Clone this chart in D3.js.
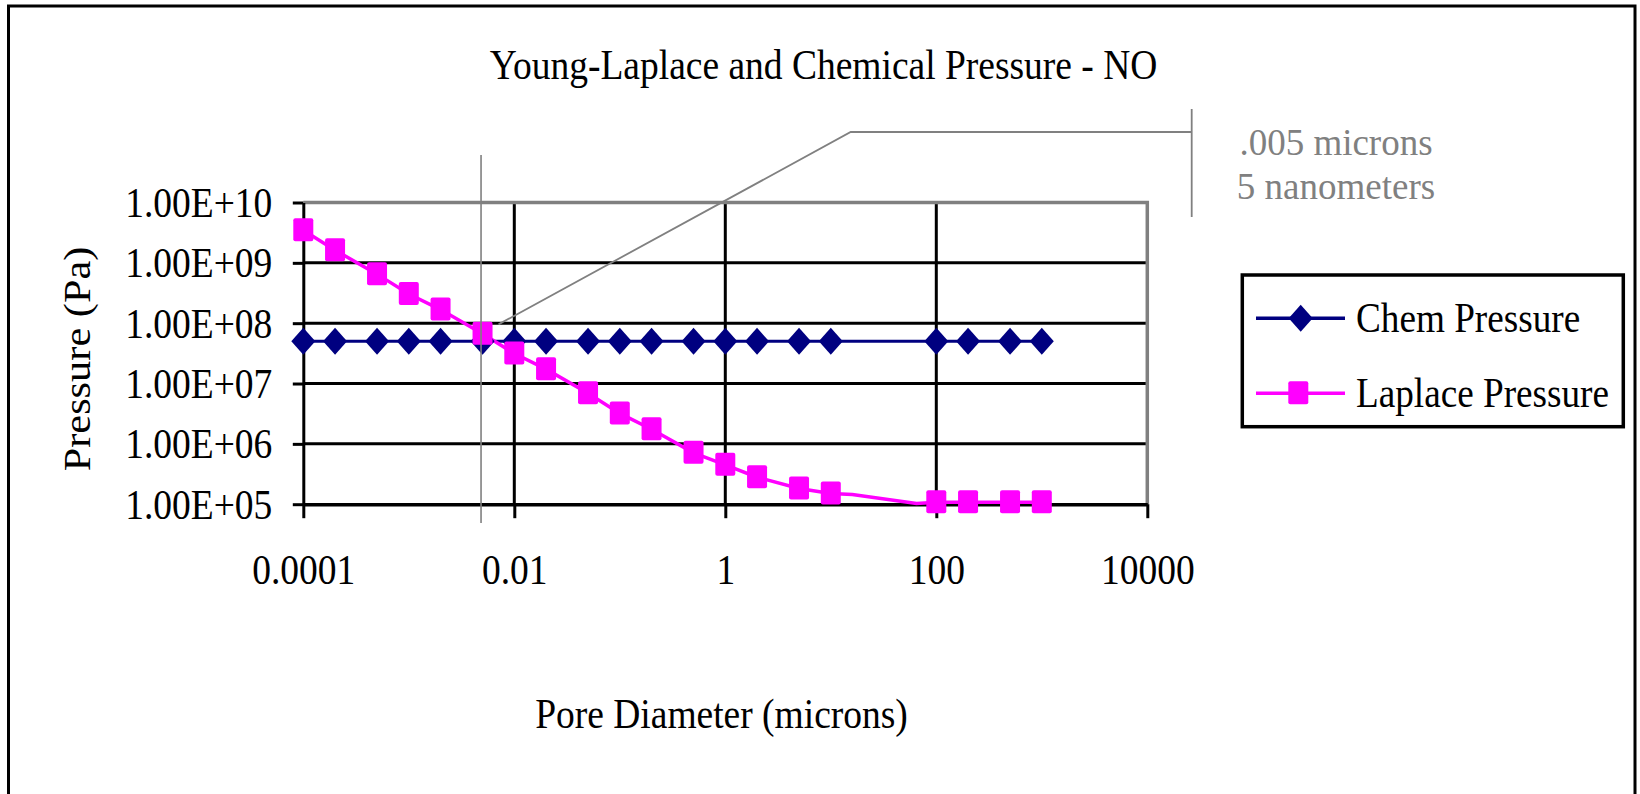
<!DOCTYPE html>
<meta charset="utf-8">
<head>
    <title>Young-Laplace and Chemical Pressure</title>
    <style>
        body { margin: 0; background: #fff; }
        svg text { font-family: "Liberation Serif", "Times New Roman", serif; fill: #000; }
    </style>
</head>
<script src="https://d3js.org/d3.v7.min.js"></script>
<svg id="chart" width="1640" height="794"></svg>

<script>
    // data (pore diameter in microns, pressure in Pa)
    const chemX = [0.0001, 0.0002, 0.0005, 0.001, 0.002, 0.005, 0.01, 0.02, 0.05, 0.1, 0.2, 0.5, 1, 2, 5, 10, 100, 200, 500, 1000]
    const chemY = [5e7, 5e7, 5e7, 5e7, 5e7, 5e7, 5e7, 5e7, 5e7, 5e7, 5e7, 5e7, 5e7, 5e7, 5e7, 5e7, 5e7, 5e7, 5e7, 5e7]

    const laplaceX = [0.0001, 0.0002, 0.0005, 0.001, 0.002, 0.005, 0.01, 0.02, 0.05, 0.1, 0.2, 0.5, 1, 2, 5, 10, 16, 65, 100, 200, 500, 1000]
    const laplaceY = [3.47e9, 1.62e9, 6.5e8, 3.05e8, 1.68e8, 6.7e7, 3.14e7, 1.73e7, 6.9e6, 3.2e6, 1.75e6, 7.1e5, 4.5e5, 2.8e5, 1.82e5, 1.5e5, 1.45e5, 1.03e5, 1.08e5, 1.08e5, 1.08e5, 1.08e5]
    // two points on the line carry no marker in the original
    const laplaceMarked = [1, 1, 1, 1, 1, 1, 1, 1, 1, 1, 1, 1, 1, 1, 1, 1, 0, 0, 1, 1, 1, 1]

    const xTicks = [0.0001, 0.01, 1, 100, 10000]
    const xTickLabels = ["0.0001", "0.01", "1", "100", "10000"]
    const xGrid = [0.01, 1, 100]
    const yTicks = [1e5, 1e6, 1e7, 1e8, 1e9, 1e10]
    const yTickLabels = ["1.00E+05", "1.00E+06", "1.00E+07", "1.00E+08", "1.00E+09", "1.00E+10"]
    const yGrid = [1e6, 1e7, 1e8, 1e9]

    const seriesNames = ["Chem Pressure", "Laplace Pressure"]
    const title = "Young-Laplace and Chemical Pressure - NO"
    const xTitle = "Pore Diameter (microns)"
    const yTitle = "Pressure (Pa)"
    const noteX = 0.005
    const noteLines = [".005 microns", "5 nanometers"]

    const svg = d3.select("#chart")
    const navy = "#000080", magenta = "#ff00ff", grey = "#808080"
    const stretch = 1.13   // the original picture is a bit taller than wide
    const fs = 37.5

    // plot area
    const plotL = 303.3, plotR = 1147.3, plotT = 202.5, plotB = 504.2

    const x = d3.scaleLog().domain([1e-4, 1e4]).range([plotL, plotR])
    const y = d3.scaleLog().domain([1e5, 1e10]).range([plotB, plotT])

    // outer frame (bottom edge falls outside the picture)
    svg.append("rect")
        .attr("x", 8.5).attr("y", 6).attr("width", 1626.5).attr("height", 820)
        .attr("fill", "none").attr("stroke", "#000").attr("stroke-width", 3)

    // title
    svg.append("text")
        .attr("transform", "translate(823.5,65) scale(1," + stretch + ")")
        .attr("text-anchor", "middle").attr("dy", "0.33em")
        .style("font-size", fs + "px")
        .text(title)

    // gridlines
    svg.append("g").selectAll("line")
        .data(yGrid)
        .join("line")
        .attr("x1", plotL).attr("x2", plotR)
        .attr("y1", d => y(d)).attr("y2", d => y(d))
        .attr("stroke", "#000").attr("stroke-width", 3)

    svg.append("g").selectAll("line")
        .data(xGrid)
        .join("line")
        .attr("x1", d => x(d)).attr("x2", d => x(d))
        .attr("y1", plotT).attr("y2", plotB)
        .attr("stroke", "#000").attr("stroke-width", 3)

    // grey plot-area border on top and right
    svg.append("path")
        .attr("d", "M" + plotL + "," + plotT + "H" + plotR + "V" + plotB)
        .attr("fill", "none").attr("stroke", grey).attr("stroke-width", 3.5)

    // y axis
    const yAxis = svg.append("g")
        .attr("transform", "translate(" + plotL + ",0)")
        .call(d3.axisLeft(y).tickValues(yTicks).tickFormat((d, i) => yTickLabels[i]).tickSize(10.5).tickSizeOuter(0))
    yAxis.select(".domain").attr("stroke", "#000").attr("stroke-width", 3)
    yAxis.selectAll(".tick line").attr("stroke", "#000").attr("stroke-width", 3)
    yAxis.selectAll(".tick text")
        .attr("x", null).attr("dy", "0.33em")
        .attr("transform", "translate(-31,0) scale(1," + stretch + ")")
        .style("font-size", fs + "px").style("font-family", "Liberation Serif")

    // x axis
    const xAxis = svg.append("g")
        .attr("transform", "translate(0," + plotB + ")")
        .call(d3.axisBottom(x).tickValues(xTicks).tickFormat((d, i) => xTickLabels[i]).tickSize(14).tickSizeOuter(0))
    xAxis.select(".domain").attr("stroke", "#000").attr("stroke-width", 3.5)
    xAxis.selectAll(".tick line").attr("stroke", "#000").attr("stroke-width", 3)
    xAxis.selectAll(".tick text")
        .attr("y", null).attr("dy", "0.33em")
        .attr("transform", "translate(0,66) scale(1," + stretch + ")")
        .style("font-size", fs + "px").style("font-family", "Liberation Serif")

    // axis titles
    svg.append("text")
        .attr("transform", "translate(721.5,714) scale(1," + stretch + ")")
        .attr("text-anchor", "middle").attr("dy", "0.33em")
        .style("font-size", fs + "px")
        .text(xTitle)

    svg.append("text")
        .attr("transform", "translate(79,359) rotate(-90) scale(" + stretch + ",1)")
        .attr("text-anchor", "middle").attr("dy", "0.3em")
        .style("font-size", fs + "px")
        .text(yTitle)

    // series
    const chem = chemX.map((d, i) => ({x: d, y: chemY[i]}))
    const lap = laplaceX.map((d, i) => ({x: d, y: laplaceY[i], m: laplaceMarked[i]}))

    const line = d3.line().x(d => x(d.x)).y(d => y(d.y))

    svg.append("path").datum(chem).attr("d", line)
        .attr("fill", "none").attr("stroke", navy).attr("stroke-width", 3)
    svg.append("path").datum(lap).attr("d", line)
        .attr("fill", "none").attr("stroke", magenta).attr("stroke-width", 3.5)

    const diamond = (cx, cy) => "M" + cx + "," + (cy - 13.5) + "L" + (cx + 12) + "," + cy +
        "L" + cx + "," + (cy + 13.5) + "L" + (cx - 12) + "," + cy + "Z"

    svg.append("g").selectAll("path")
        .data(chem)
        .join("path")
        .attr("d", d => diamond(x(d.x), y(d.y)))
        .attr("fill", navy)

    svg.append("g").selectAll("rect")
        .data(lap.filter(d => d.m))
        .join("rect")
        .attr("x", d => x(d.x) - 10).attr("y", d => y(d.y) - 12)
        .attr("width", 20).attr("height", 23).attr("rx", 2)
        .attr("fill", magenta)

    // annotation: marker line at 0.005 microns with a leader to the label
    svg.append("line")
        .attr("x1", x(noteX) - 1.5).attr("x2", x(noteX) - 1.5)
        .attr("y1", 155).attr("y2", 523)
        .attr("stroke", grey).attr("stroke-width", 1.6)

    svg.append("path")
        .attr("d", "M" + (x(noteX) + 16) + "," + (y(chemY[5]) - 17) + "L850.7,132H1191.7M1191.7,109V217")
        .attr("fill", "none").attr("stroke", grey).attr("stroke-width", 1.8)

    svg.append("g").selectAll("text")
        .data(noteLines)
        .join("text")
        .attr("x", 1336).attr("y", (d, i) => 155 + i * 44)
        .attr("text-anchor", "middle")
        .style("font-size", "37px").style("fill", grey)
        .text(d => d)

    // legend
    const legend = svg.append("g")
    legend.append("rect")
        .attr("x", 1242.3).attr("y", 275).attr("width", 381).attr("height", 151.7)
        .attr("fill", "#fff").attr("stroke", "#000").attr("stroke-width", 3.5)

    const legendY = [318.3, 393.3]
    const legendColor = [navy, magenta]
    legend.selectAll("line")
        .data(seriesNames)
        .join("line")
        .attr("x1", 1256).attr("x2", 1345)
        .attr("y1", (d, i) => legendY[i]).attr("y2", (d, i) => legendY[i])
        .attr("stroke", (d, i) => legendColor[i]).attr("stroke-width", 3.5)

    legend.append("path").attr("d", diamond(1300.7, legendY[0])).attr("fill", navy)
    legend.append("rect")
        .attr("x", 1288.3).attr("y", legendY[1] - 12).attr("width", 20).attr("height", 23).attr("rx", 2)
        .attr("fill", magenta)

    legend.selectAll("text")
        .data(seriesNames)
        .join("text")
        .attr("transform", (d, i) => "translate(1356," + legendY[i] + ") scale(1," + stretch + ")")
        .attr("dy", "0.33em")
        .style("font-size", "37.2px")
        .text(d => d)
</script>
